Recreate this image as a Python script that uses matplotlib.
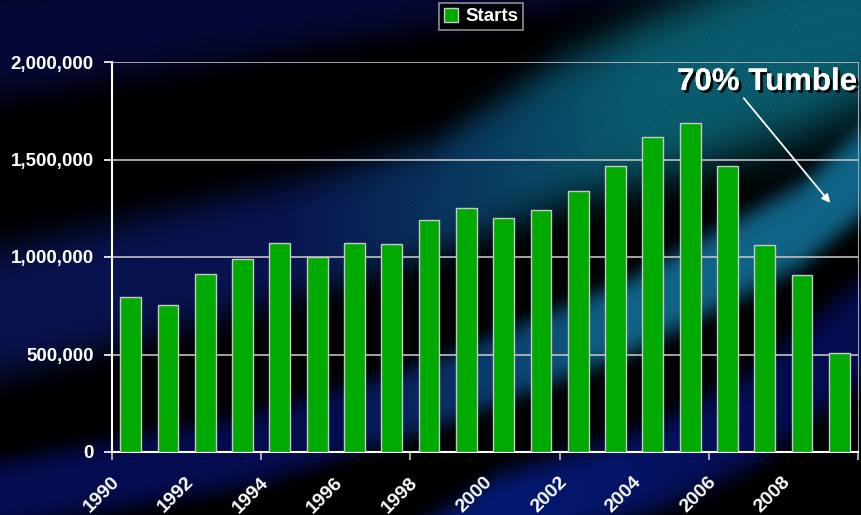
import numpy as np
import matplotlib
matplotlib.use('Agg')
from matplotlib import pyplot as plt
from matplotlib import patheffects as pe
from matplotlib.transforms import ScaledTranslation

years = list(range(1990, 2010))
starts = [794000, 753000, 912000, 988000, 1071000, 999000, 1071000, 1066000,
          1190000, 1251000, 1201000, 1240000, 1338000, 1467000, 1615000,
          1688000, 1467000, 1060000, 907000, 506000]
y_ticks = [0, 500000, 1000000, 1500000, 2000000]

W, H = 862, 515

plt.rcParams['font.family'] = ['Liberation Sans', 'DejaVu Sans']
plt.rcParams['font.weight'] = 'bold'


def band(xx, yy, cx, cy, hw, c_left, c_right, x_mid, stripes=0.0):
    # soft diagonal streak following a curved centre line
    centre = np.interp(xx, cx, cy)
    half = np.interp(xx, cx, hw)
    d = (yy - centre) / half
    k = np.exp(-d ** 4)
    if stripes:
        k = k * (1 - stripes + stripes * np.sin((yy - centre) * 1.9) ** 2)
    t = np.clip((xx - x_mid[0]) / (x_mid[1] - x_mid[0]), 0, 1)[..., None]
    col = np.array(c_left) * (1 - t) + np.array(c_right) * t
    return k[..., None] * col


def make_background():
    xx, yy = np.meshgrid(np.arange(W), np.arange(H))
    img = np.zeros((H, W, 3))
    img += band(xx, yy, [0, 431, 862], [40, -30, -100], [60, 60, 60],
                (6, 8, 55), (6, 8, 55), (0, 862))
    img += band(xx, yy, [0, 300, 431, 560, 793, 862],
                [312, 238, 200, 132, 45, 10], [68, 62, 60, 78, 100, 105],
                (10, 22, 90), (10, 105, 125), (280, 640), stripes=0.25)
    img += band(xx, yy, [0, 250, 431, 631, 800, 862],
                [495, 450, 395, 315, 225, 172], [36, 38, 36, 40, 44, 46],
                (5, 12, 80), (16, 100, 135), (330, 620))
    img += band(xx, yy, [400, 500, 650, 750, 862], [580, 515, 470, 420, 330],
                [45, 45, 45, 50, 55], (5, 25, 115), (5, 12, 80), (500, 800))
    return np.clip(img / 255.0, 0, 1)


fig = plt.figure(figsize=(W / 100, H / 100), dpi=100)
fig.patch.set_facecolor('black')

bg = fig.add_axes([0, 0, 1, 1], zorder=-1)
bg.imshow(make_background(), aspect='auto', extent=(0, 1, 0, 1),
          interpolation='bilinear')
bg.axis('off')

ax = fig.add_axes([112 / W, 1 - 452 / H, 746 / W, 390 / H])
ax.set_facecolor('none')

x = np.arange(len(years))
bars = ax.bar(x, starts, width=0.56, color='#00aa00', edgecolor='#c8c8c8',
              linewidth=1.0, label='Starts', zorder=3)

ax.set_xlim(-0.5, len(years) - 0.5)
ax.set_ylim(0, 2000000)

ax.set_yticks(y_ticks)
ax.set_yticklabels([f'{v:,}' for v in y_ticks])
ax.yaxis.grid(True, color='#c0c0c0', linewidth=1.2)
ax.set_axisbelow(True)
ax.tick_params(axis='y', colors='white', labelcolor='white', labelsize=13.5,
               length=6, width=1.2, pad=7, direction='out')

# year labels on every other bar, tick marks every four bars
ax.set_xticks(x[::2])
ax.set_xticklabels([str(y) for y in years[::2]], rotation=45, ha='right',
                   va='center', rotation_mode='anchor')
ax.set_xticks(np.arange(-0.5, len(years), 4), minor=True)
ax.tick_params(axis='x', which='major', length=0, labelsize=14,
               labelcolor='white', pad=20)
ax.tick_params(axis='x', which='minor', length=6, width=1.2,
               color='#c8c8c8')
shift = ScaledTranslation(-14 / 100, 0, fig.dpi_scale_trans)
for lab in ax.get_xticklabels():
    lab.set_transform(lab.get_transform() + shift)

for side in ['left', 'bottom']:
    ax.spines[side].set_color('white')
    ax.spines[side].set_linewidth(1.5)
ax.spines['right'].set_color('#a0a0a0')
ax.spines['top'].set_visible(False)

leg = fig.legend(handles=[bars], loc='center', bbox_to_anchor=(481 / W, 1 - 16.5 / H),
                 frameon=True, fontsize=13.5, handlelength=0.75, handleheight=0.75,
                 handletextpad=0.4, borderpad=0.25, fancybox=False)
leg.get_frame().set_facecolor('black')
leg.get_frame().set_edgecolor('#b0b0b0')
leg.get_frame().set_linewidth(1.2)
for t in leg.get_texts():
    t.set_color('white')

fig.text(767 / W, 1 - 82 / H, '70% Tumble', color='white', fontsize=22.5,
         fontweight='bold', ha='center', va='center',
         path_effects=[pe.withSimplePatchShadow(offset=(2, -2), shadow_rgbFace='black',
                                                alpha=0.9), pe.Normal()])
ax.annotate('', xy=(832 / W, 1 - 205 / H), xytext=(742 / W, 1 - 96 / H),
            xycoords='figure fraction', textcoords='figure fraction',
            arrowprops=dict(arrowstyle='-|>', color='white', lw=1.3,
                            mutation_scale=12))

fig.savefig('out.png', dpi=100, facecolor='black')
